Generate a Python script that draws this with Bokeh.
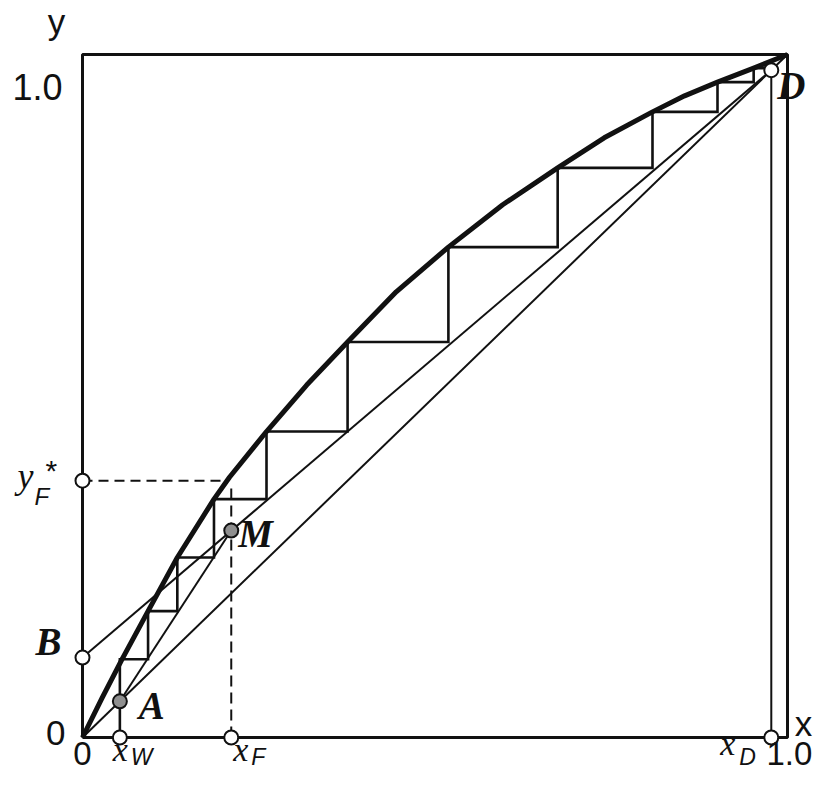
from bokeh.plotting import figure
from bokeh.models import Range1d
from bokeh.embed import file_html
from bokeh.resources import INLINE
from bokeh.core.properties import value

# ---- data (mole fractions) ----
curve_x = [0.0, 0.028, 0.056, 0.093, 0.1345, 0.1865, 0.2085, 0.261, 0.318, 0.376,
           0.445, 0.519, 0.596, 0.674, 0.740, 0.8085, 0.854, 0.9007, 0.952, 1.0]
curve_y = [0.0, 0.0585, 0.1145, 0.1850, 0.2635, 0.3490, 0.3810, 0.4480, 0.5160, 0.5790,
           0.6525, 0.7180, 0.7800, 0.8340, 0.8780, 0.9160, 0.9395, 0.9595, 0.9800, 1.0]

stage_x = [0.053, 0.093, 0.1345, 0.1865, 0.261, 0.376, 0.519, 0.674, 0.8085, 0.9007, 0.952]
stage_y = [0.1145, 0.1850, 0.2635, 0.3490, 0.4480, 0.5790, 0.7180, 0.8340, 0.9160, 0.9595, 0.9800]

x_W = 0.053
x_F = 0.211
x_D = 0.977
y_B = 0.117
y_Fstar = 0.376
y_M = 0.303
x_Fstar_curve = 0.205
y_Fq_top = 0.366

tick_labels = ["0", "1.0"]

# ---- figure: frame spans the whole canvas ----
W, H = 816, 773
p = figure(width=W, height=H, output_backend="svg", toolbar_location=None,
           x_range=Range1d(-0.11631, 1.04113), y_range=Range1d(-0.05271, 1.07906),
           min_border=0, x_axis_type=None, y_axis_type=None)
p.grid.visible = False
p.outline_line_color = None
p.background_fill_color = "white"
p.border_fill_color = "white"

K = "#111111"

# frame box
p.line([0, 1, 1, 0, 0], [0, 0, 1, 1, 0], line_color=K, line_width=3)

# diagonal y = x
p.line([0, 1], [0, 1], line_color=K, line_width=2)
# rectifying operating line B -> D
p.line([0, x_D], [y_B, x_D], line_color=K, line_width=2)
# stripping operating line A -> M
p.line([x_W, x_F], [x_W, y_M], line_color=K, line_width=2)
# x_D vertical
p.line([x_D, x_D], [0, x_D], line_color=K, line_width=2)

# dashed feed lines
p.line([0, x_Fstar_curve], [y_Fstar, y_Fstar], line_color=K, line_width=2, line_dash="10 6")
p.line([x_F, x_F], [0, y_Fq_top], line_color=K, line_width=2, line_dash="11 6")

# staircase (from x_W on the axis, through A, up to D)
sx = [x_W, x_W]
sy = [0, stage_y[0]]
for i in range(1, len(stage_x)):
    sx += [stage_x[i], stage_x[i]]
    sy += [stage_y[i - 1], stage_y[i]]
sx.append(x_D)
sy.append(stage_y[-1])
p.line(sx, sy, line_color=K, line_width=2.6, line_join="miter")

# equilibrium curve
p.line(curve_x, curve_y, line_color=K, line_width=5, line_join="round")

# circles
p.scatter([0, 0, x_W, x_F, x_D, x_D], [y_B, y_Fstar, 0, 0, 0, x_D], size=14,
          marker="circle", fill_color="white", line_color=K, line_width=2)
p.scatter([x_W, x_F], [x_W, y_M], size=14, marker="circle",
          fill_color="#8f8f8f", line_color=K, line_width=2)


def label(x, y, txt, font, style, size, dx, dy, align="left"):
    p.text(x=[x], y=[y], text=[txt], text_font=value(font), text_font_style=style,
           text_font_size=size, x_offset=dx, y_offset=dy, text_align=align,
           text_baseline="alphabetic", text_color=K)


SANS = "Liberation Sans"
SERIF = "Liberation Serif"

# axis texts
label(0, 1, "y", SANS, "normal", "35px", -26, -33, "center")
label(0, 1, tick_labels[1], SANS, "normal", "36px", -20, 33, "right")
label(0, 0, tick_labels[0], SANS, "normal", "35px", -17, -4, "right")
label(0, 0, tick_labels[0], SANS, "normal", "33px", 0, 16, "center")
label(1, 0, "x", SANS, "normal", "35px", 16, -14, "center")
label(1, 0, tick_labels[1], SANS, "normal", "33px", -21, 16, "left")

# composition labels
label(x_W, 0, "x", SERIF, "italic", "34px", -7, 12)
label(x_W, 0, "W", SANS, "italic", "23px", 11, 20)
label(x_F, 0, "x", SERIF, "italic", "34px", 2, 12)
label(x_F, 0, "F", SANS, "italic", "23px", 20, 20)
label(x_D, 0, "x", SERIF, "italic", "34px", -51, 6)
label(x_D, 0, "D", SANS, "italic", "23px", -32, 20)
label(0, y_Fstar, "y", SERIF, "italic", "36px", -65, -5)
label(0, y_Fstar, "F", SANS, "italic", "24px", -48, 16)
label(0, y_Fstar, "*", SANS, "normal", "30px", -37, -10)

# point letters
label(0, y_B, "B", SERIF, "bold italic", "39px", -47, -16)
label(x_W, x_W, "A", SERIF, "bold italic", "39px", 19, 4)
label(x_F, y_M, "M", SERIF, "bold italic", "39px", 7, 3)
label(x_D, x_D, "D", SERIF, "bold italic", "39px", 6, 15)

open("out.html", "w").write(file_html(p, INLINE))
